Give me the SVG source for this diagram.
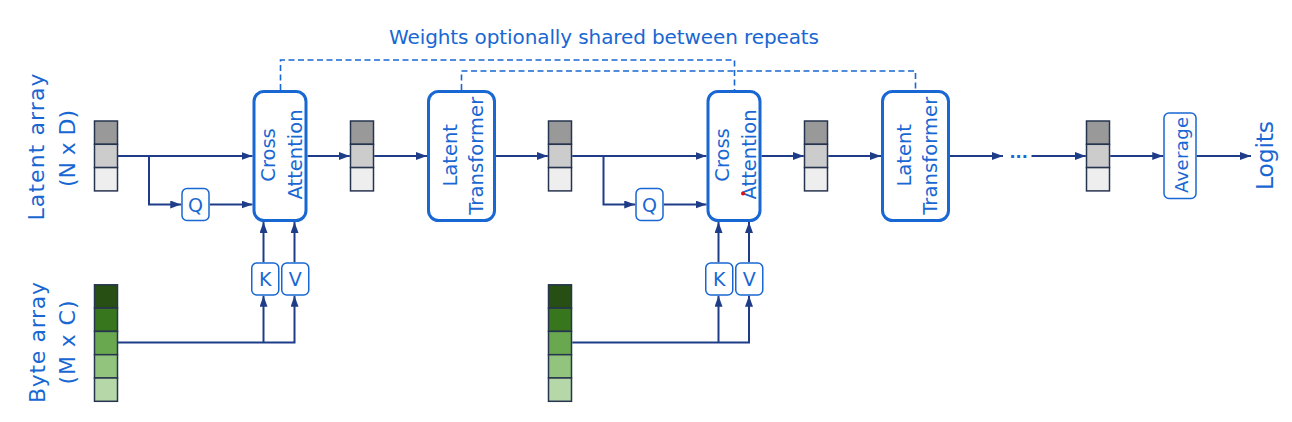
<svg xmlns="http://www.w3.org/2000/svg" width="1292" height="422" viewBox="0 0 1292 422">
<style>
text{font-family:"DejaVu Sans","Liberation Sans",sans-serif;fill:#1967d2}
.big{fill:#fff;stroke:#1967d2;stroke-width:3}
.small{fill:#fff;stroke:#1967d2;stroke-width:1.5}
.cell{stroke:#27344f;stroke-width:1.5}
.g1{fill:#999999}.g2{fill:#cccccc}.g3{fill:#eeeeee}
.b1{fill:#274e13}.b2{fill:#38761d}.b3{fill:#6aa84f}.b4{fill:#93c47d}.b5{fill:#b6d7a8}
.con{fill:none;stroke:#1f3c88;stroke-width:2}
.arr{marker-end:url(#ah)}
.dash{fill:none;stroke:#1967d2;stroke-width:1.6;stroke-dasharray:6 3.5}
.bt{font-size:19.5px}
.lt{font-size:19px}
.lab{font-size:22px}
</style>
<defs>
<marker id="ah" viewBox="0 0 11 8" refX="11" refY="4" markerWidth="11" markerHeight="8" markerUnits="userSpaceOnUse" orient="auto">
<path d="M0,0 L11,4 L0,8 z" fill="#1f3c88"/>
</marker>
<g id="lat">
<rect class="cell g1" x="0" y="0" width="23" height="23.3"/>
<rect class="cell g2" x="0" y="23.3" width="23" height="23.3"/>
<rect class="cell g3" x="0" y="46.6" width="23" height="23.3"/>
</g>
<g id="byte">
<rect class="cell b1" x="0" y="0" width="23" height="23.3"/>
<rect class="cell b2" x="0" y="23.3" width="23" height="23.3"/>
<rect class="cell b3" x="0" y="46.6" width="23" height="23.3"/>
<rect class="cell b4" x="0" y="69.9" width="23" height="23.3"/>
<rect class="cell b5" x="0" y="93.2" width="23" height="23.3"/>
</g>
</defs>

<text id="title" x="604" y="44" font-size="20" text-anchor="middle" textLength="430">Weights optionally shared between repeats</text>

<g id="labels">
<text class="lab" transform="translate(43.5,147) rotate(-90)" text-anchor="middle" textLength="147">Latent array</text>
<text class="lab" transform="translate(75,148.5) rotate(-90)" text-anchor="middle" textLength="77">(N x D)</text>
<text class="lab" transform="translate(44.5,342.5) rotate(-90)" text-anchor="middle" textLength="121">Byte array</text>
<text class="lab" transform="translate(75,342.5) rotate(-90)" text-anchor="middle" textLength="84">(M x C)</text>
</g>

<g id="connectors">
<path class="dash" d="M280.5,90 V60 H734.5 V90"/>
<path class="dash" d="M461.5,90 V71 H915.5 V89"/>
<path class="con arr" d="M117.75,156 H252.5"/>
<path class="con arr" d="M149,156 V204.5 H181.25"/>
<path class="con arr" d="M209.75,204.5 H252.5"/>
<path class="con arr" d="M307.5,156 H349.75"/>
<path class="con arr" d="M374.25,156 H427"/>
<path class="con arr" d="M496,156 H547.75"/>
<path class="con arr" d="M572.25,156 H706.5"/>
<path class="con arr" d="M603.5,156 V204.5 H635.25"/>
<path class="con arr" d="M663.75,204.5 H706.5"/>
<path class="con arr" d="M761.5,156 H803.75"/>
<path class="con arr" d="M828.25,156 H881"/>
<path class="con arr" d="M950,156 H1003"/>
<path class="con arr" d="M1031.5,156 H1085.75"/>
<path class="con arr" d="M1110.25,156 H1163.25"/>
<path class="con arr" d="M1196.75,156 H1251"/>
<path class="con arr" d="M117.75,342.5 H294.5 V295.75"/>
<path class="con arr" d="M263.5,342.5 V295.75"/>
<path class="con arr" d="M263.5,262.25 V222"/>
<path class="con arr" d="M294.5,262.25 V222"/>
<path class="con arr" d="M572.25,342.5 H749 V295.75"/>
<path class="con arr" d="M718.5,342.5 V295.75"/>
<path class="con arr" d="M718.5,262.25 V222"/>
<path class="con arr" d="M749,262.25 V222"/>
<text x="1009.5" y="158" font-size="16" font-weight="bold">...</text>
</g>

<g id="latent1"><use href="#lat" x="94.5" y="121"/></g>
<g id="latent2"><use href="#lat" x="350.5" y="121"/></g>
<g id="latent3"><use href="#lat" x="548.5" y="121"/></g>
<g id="latent4"><use href="#lat" x="804.5" y="121"/></g>
<g id="latent5"><use href="#lat" x="1086.5" y="121"/></g>
<g id="byte1"><use href="#byte" x="94.5" y="284.8"/></g>
<g id="byte2"><use href="#byte" x="548.5" y="284.8"/></g>

<g id="cross1">
<rect class="big" x="254" y="91.5" width="52" height="129" rx="10"/>
<text class="bt" transform="translate(275,155) rotate(-90)" text-anchor="middle">Cross</text>
<text class="bt" transform="translate(301.5,154.5) rotate(-90)" text-anchor="middle">Attention</text>
</g>
<g id="q1"><rect class="small" x="182" y="188.5" width="27" height="32" rx="5"/><text class="lt" x="195.5" y="211.5" text-anchor="middle">Q</text></g>
<g id="k1"><rect class="small" x="251.75" y="263" width="27" height="32" rx="5"/><text class="lt" x="265.25" y="285.5" text-anchor="middle">K</text></g>
<g id="v1"><rect class="small" x="281.75" y="263" width="27" height="32" rx="5"/><text class="lt" x="295.25" y="285.5" text-anchor="middle">V</text></g>

<g id="transformer1">
<rect class="big" x="428.5" y="91.5" width="66" height="129" rx="10"/>
<text class="bt" transform="translate(456.5,155.3) rotate(-90)" text-anchor="middle">Latent</text>
<text class="bt" transform="translate(483,155.8) rotate(-90)" text-anchor="middle" textLength="118">Transformer</text>
</g>

<g id="cross2">
<rect class="big" x="708" y="91.5" width="52" height="129" rx="10"/>
<text class="bt" transform="translate(729,155) rotate(-90)" text-anchor="middle">Cross</text>
<text class="bt" transform="translate(755.5,154.5) rotate(-90)" text-anchor="middle">Attention</text>
<circle cx="743" cy="193.5" r="2" fill="#e01010"/>
</g>
<g id="q2"><rect class="small" x="636" y="188.5" width="27" height="32" rx="5"/><text class="lt" x="649.5" y="211.5" text-anchor="middle">Q</text></g>
<g id="k2"><rect class="small" x="705.75" y="263" width="27" height="32" rx="5"/><text class="lt" x="719.25" y="285.5" text-anchor="middle">K</text></g>
<g id="v2"><rect class="small" x="735.75" y="263" width="27" height="32" rx="5"/><text class="lt" x="749.25" y="285.5" text-anchor="middle">V</text></g>

<g id="transformer2">
<rect class="big" x="882.5" y="91.5" width="66" height="129" rx="10"/>
<text class="bt" transform="translate(910.5,155.3) rotate(-90)" text-anchor="middle">Latent</text>
<text class="bt" transform="translate(937,155.8) rotate(-90)" text-anchor="middle" textLength="118">Transformer</text>
</g>

<g id="average">
<rect class="small" x="1164" y="113" width="32" height="85.5" rx="5"/>
<text transform="translate(1188,155) rotate(-90)" font-size="18" text-anchor="middle" textLength="76">Average</text>
</g>
<g id="logits">
<text transform="translate(1273,155.5) rotate(-90)" font-size="23.5" text-anchor="middle" textLength="69">Logits</text>
</g>
</svg>
